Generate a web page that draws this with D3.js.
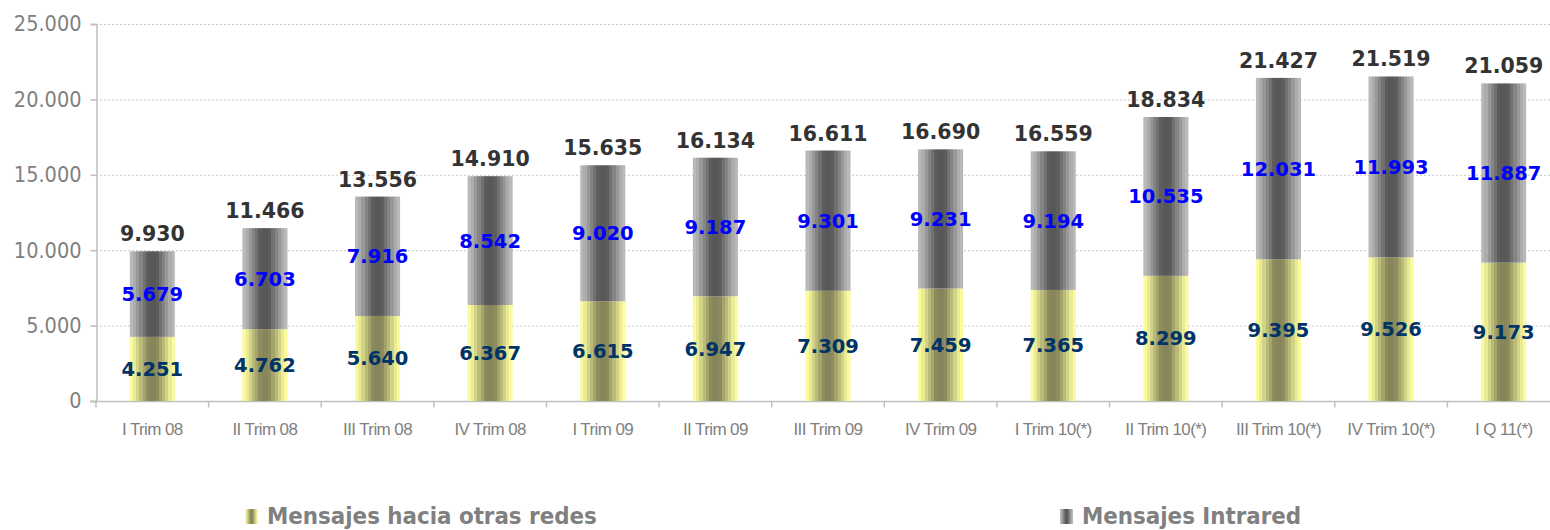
<!DOCTYPE html>
<html>
<head>
<meta charset="utf-8">
<script src="https://cdn.jsdelivr.net/npm/d3@7"></script>
<style>
  body { margin: 0; background: #fff; }
  svg { display: block; }
</style>
</head>
<body>
<div id="chart"></div>
<script>
(function () {
    var width = 1550,
        height = 530;

    var categories = ["I Trim 08", "II Trim 08", "III Trim 08", "IV Trim 08",
        "I Trim 09", "II Trim 09", "III Trim 09", "IV Trim 09",
        "I Trim 10(*)", "II Trim 10(*)", "III Trim 10(*)", "IV Trim 10(*)", "I Q 11(*)"];
    var otrasRedes = [4251, 4762, 5640, 6367, 6615, 6947, 7309, 7459, 7365, 8299, 9395, 9526, 9173];
    var intrared = [5679, 6703, 7916, 8542, 9020, 9187, 9301, 9231, 9194, 10535, 12031, 11993, 11887];
    var totals = [9930, 11466, 13556, 14910, 15635, 16134, 16611, 16690, 16559, 18834, 21427, 21519, 21059];
    var yTicks = [0, 5000, 10000, 15000, 20000, 25000];
    var seriesNames = ["Mensajes hacia otras redes", "Mensajes Intrared"];

    var fmt = function (v) {
        return d3.format(",")(v).replace(/,/g, ".");
    };

    var svg = d3.select("#chart")
        .append("svg")
        .attr("width", width)
        .attr("height", height);

    var defs = svg.append("defs");

    // striped horizontal gradient: light edges, dark middle
    function stripes(id, light, dark) {
        var g = defs.append("linearGradient")
            .attr("id", id)
            .attr("x1", "0%").attr("x2", "100%")
            .attr("y1", "0%").attr("y2", "0%");
        var c = d3.interpolateRgb(light, dark);
        var n = 14;
        for (var i = 0; i < n; i++) {
            var mid = (i + 0.5) / n;
            var t = 1 - Math.abs(mid - 0.5) / 0.5;
            t = Math.max(0, Math.min(1, (t - 0.12) / 0.7));
            g.append("stop").attr("offset", (i / n) * 100 + "%").attr("stop-color", c(t));
            g.append("stop").attr("offset", ((i + 1) / n) * 100 + "%").attr("stop-color", c(t));
        }
    }
    stripes("gYellow", "#fbfb9e", "#86865a");
    stripes("gGray", "#b9b9b9", "#585858");

    var x = d3.scaleBand()
        .domain(categories)
        .range([96, 1560])
        .paddingInner(0.6)
        .paddingOuter(0.3);

    var y = d3.scaleLinear()
        .domain([0, 25000])
        .range([401, 24]);

    // gridlines
    svg.append("g")
        .selectAll("line")
        .data(yTicks.slice(1))
        .enter().append("line")
        .attr("x1", 96).attr("x2", width)
        .attr("y1", function (d) { return y(d) + 0.5; })
        .attr("y2", function (d) { return y(d) + 0.5; })
        .attr("stroke", "#c8c8c8")
        .attr("stroke-dasharray", "2,2");

    // y axis
    var yAxis = svg.append("g")
        .attr("transform", "translate(96.5,0)")
        .call(d3.axisLeft(y).tickValues(yTicks).tickSize(6).tickFormat(fmt));
    yAxis.select(".domain").attr("stroke", "#bfbfbf").attr("stroke-width", 1.5);
    yAxis.selectAll(".tick line").attr("stroke", "#bfbfbf").attr("stroke-width", 1.5);
    yAxis.selectAll(".tick text")
        .attr("x", -15)
        .attr("fill", "#808080")
        .style("font-family", "'DejaVu Sans Condensed', 'DejaVu Sans', sans-serif")
        .style("font-size", "21.5px");

    // x axis
    var xAxisG = svg.append("g").attr("transform", "translate(0,401.5)");
    xAxisG.append("line")
        .attr("x1", 90).attr("x2", width)
        .attr("stroke", "#bfbfbf").attr("stroke-width", 1.5);
    var step = x.step();
    xAxisG.selectAll(".sep")
        .data(categories)
        .enter().append("line")
        .attr("class", "sep")
        .attr("x1", function (d) { return x(d) - x.paddingInner() * step / 2; })
        .attr("x2", function (d) { return x(d) - x.paddingInner() * step / 2; })
        .attr("y1", 0).attr("y2", 6)
        .attr("stroke", "#bfbfbf").attr("stroke-width", 1.5);
    xAxisG.selectAll(".lbl")
        .data(categories)
        .enter().append("text")
        .attr("class", "lbl")
        .attr("x", function (d) { return x(d) + x.bandwidth() / 2; })
        .attr("y", 33)
        .attr("text-anchor", "middle")
        .attr("fill", "#808080")
        .style("font-family", "'Liberation Sans', Arial, sans-serif")
        .style("font-size", "17px")
        .style("letter-spacing", "-0.6px")
        .text(function (d) { return d; });

    // bars
    var bars = svg.append("g");
    bars.selectAll(".low")
        .data(categories)
        .enter().append("rect")
        .attr("class", "low")
        .attr("x", function (d) { return x(d); })
        .attr("width", x.bandwidth())
        .attr("y", function (d, i) { return y(otrasRedes[i]); })
        .attr("height", function (d, i) { return y(0) - y(otrasRedes[i]); })
        .attr("fill", "url(#gYellow)");
    bars.selectAll(".high")
        .data(categories)
        .enter().append("rect")
        .attr("class", "high")
        .attr("x", function (d) { return x(d); })
        .attr("width", x.bandwidth())
        .attr("y", function (d, i) { return y(otrasRedes[i] + intrared[i]); })
        .attr("height", function (d, i) { return y(otrasRedes[i]) - y(otrasRedes[i] + intrared[i]); })
        .attr("fill", "url(#gGray)");

    // value labels
    var labels = svg.append("g")
        .style("font-family", "'DejaVu Sans', sans-serif")
        .style("font-weight", "bold")
        .attr("text-anchor", "middle");
    labels.selectAll(".vlow")
        .data(categories)
        .enter().append("text")
        .attr("x", function (d) { return x(d) + x.bandwidth() / 2; })
        .attr("y", function (d, i) { return y(otrasRedes[i] / 2) + 7; })
        .attr("fill", "#003366")
        .style("font-size", "19.5px")
        .text(function (d, i) { return fmt(otrasRedes[i]); });
    labels.selectAll(".vhigh")
        .data(categories)
        .enter().append("text")
        .attr("x", function (d) { return x(d) + x.bandwidth() / 2; })
        .attr("y", function (d, i) { return y(otrasRedes[i] + intrared[i] / 2) + 7; })
        .attr("fill", "#0000ff")
        .style("font-size", "19.5px")
        .text(function (d, i) { return fmt(intrared[i]); });
    labels.selectAll(".vtot")
        .data(categories)
        .enter().append("text")
        .attr("x", function (d) { return x(d) + x.bandwidth() / 2; })
        .attr("y", function (d, i) { return y(totals[i]) - 10; })
        .attr("fill", "#333333")
        .style("font-size", "20.5px")
        .text(function (d, i) { return fmt(totals[i]); });

    // legend
    var legendX = [245, 1060];
    var legendFill = ["url(#gYellow)", "url(#gGray)"];
    var items = svg.append("g").selectAll(".item")
        .data(seriesNames)
        .enter().append("g")
        .attr("transform", function (d, i) { return "translate(" + legendX[i] + ",509)"; });
    items.append("rect")
        .attr("width", 13).attr("height", 15)
        .attr("fill", function (d, i) { return legendFill[i]; });
    items.append("text")
        .attr("x", 22).attr("y", 15)
        .attr("fill", "#808080")
        .style("font-family", "'DejaVu Sans Condensed', 'DejaVu Sans', sans-serif")
        .style("font-weight", "bold")
        .style("font-size", "23.8px")
        .text(function (d) { return d; });
})();
</script>
</body>
</html>
